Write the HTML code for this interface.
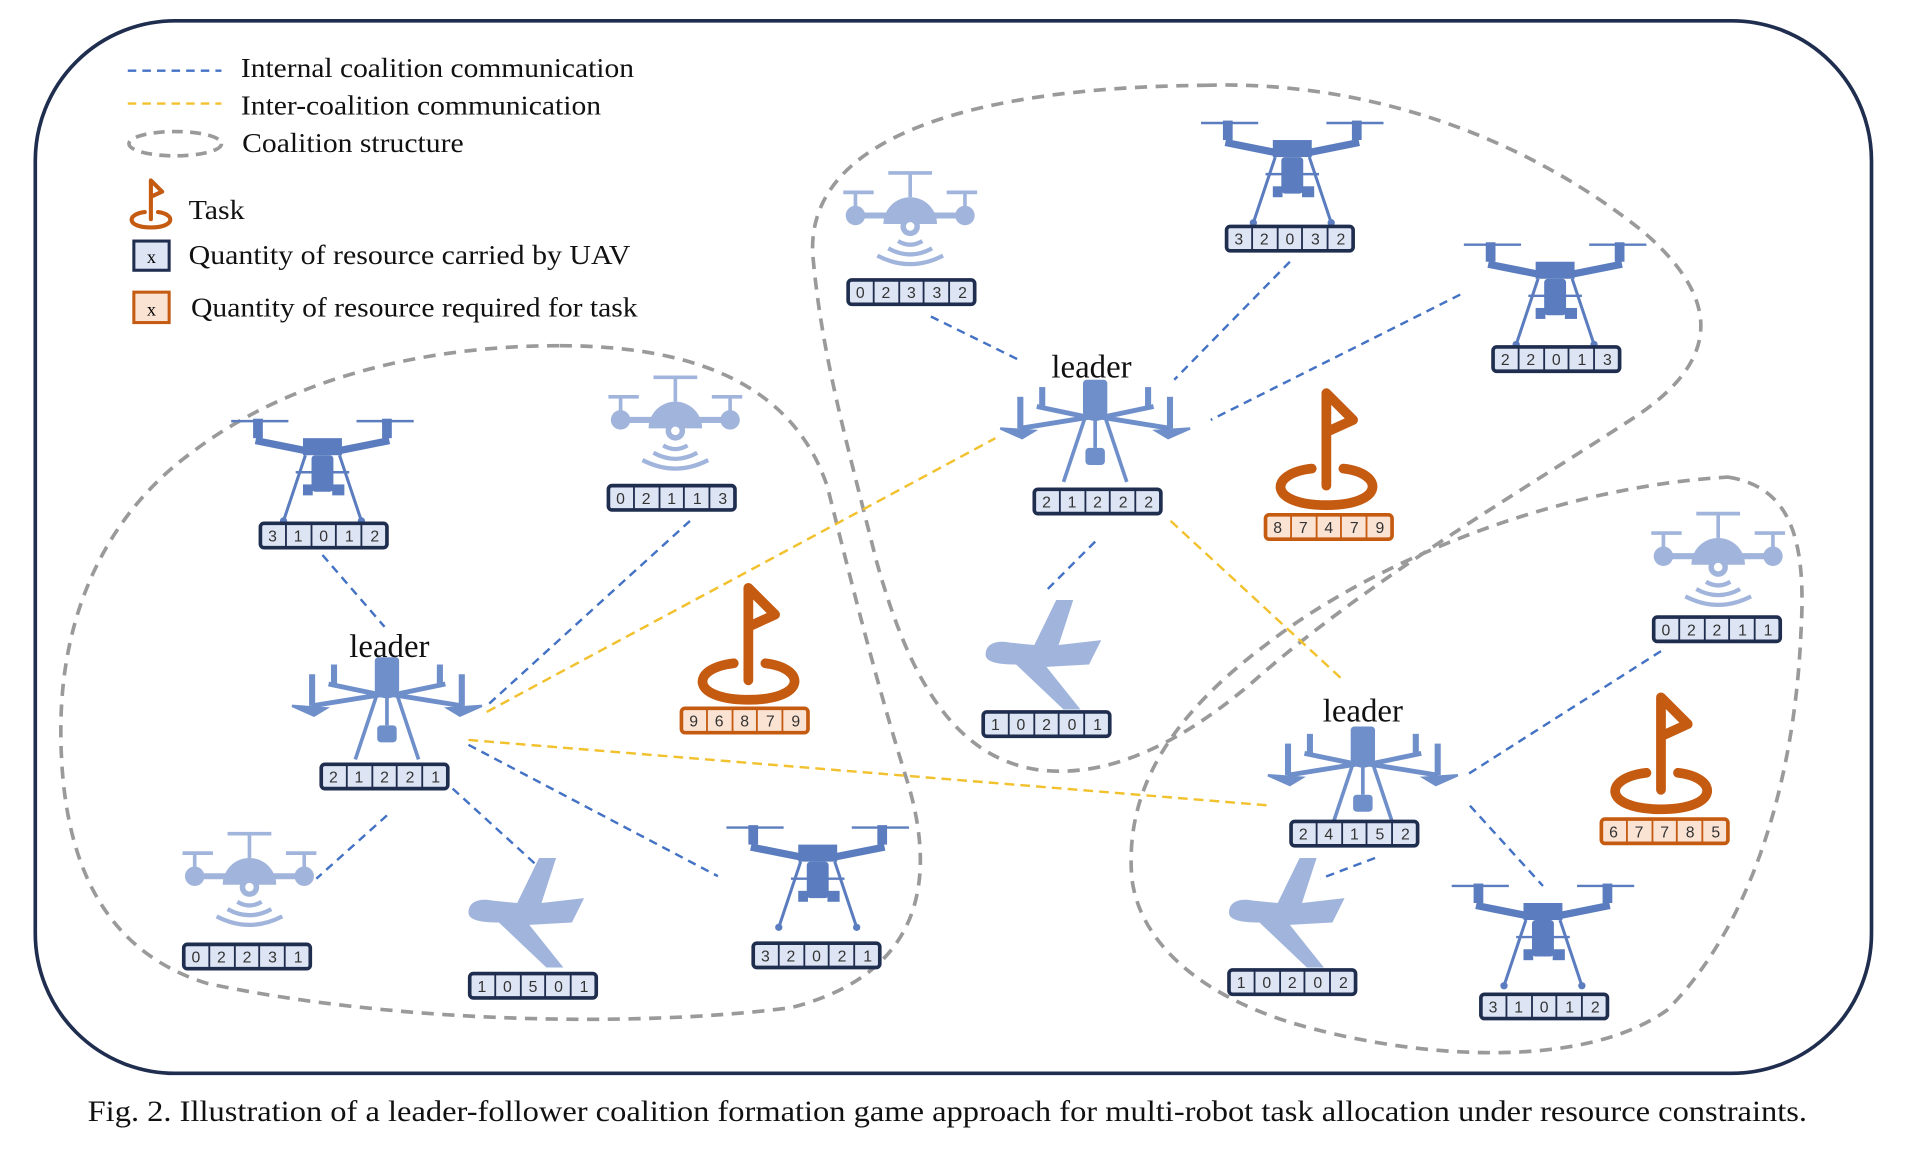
<!DOCTYPE html>
<html><head><meta charset="utf-8"><style>
html,body{margin:0;padding:0;background:#fff;}
svg{display:block;}
text{font-family:"Liberation Serif",serif;}
.num{font-family:"Liberation Sans",sans-serif;font-size:13px;fill:#333;text-anchor:middle;}
</style></head><body>
<svg width="1908" height="1155" viewBox="0 0 1568 949" xmlns="http://www.w3.org/2000/svg">
<defs>
<g id="quad" fill="#5b7dbf" stroke="#5b7dbf">
  <line x1="-75" y1="-42" x2="-28" y2="-42" stroke-width="2"/>
  <line x1="28" y1="-42" x2="75" y2="-42" stroke-width="2"/>
  <rect x="-57" y="-44" width="8" height="16" stroke="none"/>
  <rect x="49" y="-44" width="8" height="16" stroke="none"/>
  <path d="M-55,-26 L-15,-18 L15,-18 L55,-26" fill="none" stroke-width="6"/>
  <rect x="-16" y="-28" width="32" height="14" stroke="none"/>
  <rect x="-9" y="-14" width="18" height="30" rx="3" stroke="none"/>
  <line x1="-14" y1="-14" x2="-32" y2="40" stroke-width="2.5"/>
  <line x1="14" y1="-14" x2="32" y2="40" stroke-width="2.5"/>
  <line x1="-22" y1="0" x2="22" y2="0" stroke-width="2"/>
  <rect x="-16" y="10" width="8" height="9" stroke="none"/>
  <rect x="8" y="10" width="10" height="9" stroke="none"/>
  <circle cx="-32" cy="40" r="3" stroke="none"/><circle cx="32" cy="40" r="3" stroke="none"/>
</g>
<g id="leaderd" fill="#6f8fca" stroke="#6f8fca">
  <rect x="-10" y="-40" width="20" height="30" rx="3" stroke="none"/>
  <path d="M-48,-18 L0,-8 L48,-18 M-62,0 L0,-10 L62,0" fill="none" stroke-width="4"/>
  <rect x="-46" y="-34" width="5" height="16" stroke="none"/><rect x="41" y="-34" width="5" height="16" stroke="none"/>
  <rect x="-64" y="-26" width="5" height="26" stroke="none"/><rect x="59" y="-26" width="5" height="26" stroke="none"/>
  <path d="M-78,0 L-50,2 L-60,8 Z M78,0 L50,2 L60,8 Z" stroke-width="2"/>
  <path d="M-8,-10 L-26,44 M8,-10 L26,44" fill="none" stroke-width="3"/>
  <rect x="-8" y="16" width="16" height="14" rx="3" stroke="none"/>
  <line x1="0" y1="-10" x2="0" y2="16" stroke-width="3"/>
</g>
<g id="round" fill="#a1b5dc" stroke="#a1b5dc">
  <line x1="-18" y1="-30" x2="18" y2="-30" stroke-width="3"/>
  <line x1="0" y1="-30" x2="0" y2="-10" stroke-width="3"/>
  <line x1="-55" y1="-14" x2="-30" y2="-14" stroke-width="3"/>
  <line x1="30" y1="-14" x2="55" y2="-14" stroke-width="3"/>
  <line x1="-45" y1="-14" x2="-45" y2="0" stroke-width="3"/>
  <line x1="45" y1="-14" x2="45" y2="0" stroke-width="3"/>
  <circle cx="-45" cy="5" r="8" stroke="none"/><circle cx="45" cy="5" r="8" stroke="none"/>
  <line x1="-45" y1="5" x2="45" y2="5" stroke-width="5"/>
  <path d="M-22,12 A22,22 0 0 1 22,12 Z" stroke="none"/>
  <circle cx="0" cy="14" r="8" stroke="none"/>
  <circle cx="0" cy="14" r="3.5" fill="#fff" stroke="none"/>
  <path d="M-10,26 Q0,32 10,26 M-18,32 Q0,42 18,32 M-27,38 Q0,52 27,38" fill="none" stroke-width="3.5"/>
</g>
<g id="plane" fill="#a1b5dc">
  <path d="M-50,0 C-50,-10 -40,-12 -30,-10 L-10,-8 L8,-45 L22,-45 L10,-8 L45,-12 L35,8 L0,10 L28,45 L14,45 L-25,8 C-40,8 -50,6 -50,0 Z"/>
</g>
<g id="flag" fill="none" stroke="#c55a11" stroke-linecap="round" stroke-linejoin="round">
  <path d="M0,24 L0,-52 L22,-30 L0,-20" stroke-width="8"/>
  <path d="M-12,10 C-48,14 -48,40 0,40 C48,40 48,14 14,10" stroke-width="8"/>
</g>
</defs>

<rect x="29" y="17" width="1509" height="865" rx="115" fill="none" stroke="#1f2d4f" stroke-width="3"/>

<g fill="none" stroke="#9a9a9a" stroke-width="3" stroke-dasharray="10 7">
<path d="M460,284 C560,284 650,310 680,400 C700,480 720,560 745,640 C770,720 760,800 650,828 C520,845 320,840 170,808 C80,780 50,700 50,600 C50,500 90,420 160,370 C240,310 350,284 460,284 Z"/>
<path d="M990,70 C1120,66 1250,110 1350,190 C1420,250 1410,300 1340,345 C1240,410 1120,480 1030,560 C960,620 900,640 850,632 C780,620 745,550 720,460 C695,360 675,290 668,210 C662,120 780,72 990,70 Z"/>
<path d="M1420,392 C1470,400 1485,440 1480,520 C1475,640 1440,760 1370,830 C1300,880 1160,870 1060,840 C980,815 935,770 930,720 C925,650 960,590 1040,530 C1130,460 1280,400 1420,392 Z"/>
</g>

<g stroke="#4472c4" stroke-width="2" stroke-dasharray="7 5" fill="none">
<line x1="265" y1="456" x2="316" y2="515"/>
<line x1="567" y1="428" x2="400" y2="580"/>
<line x1="318" y1="670" x2="260" y2="722"/>
<line x1="372" y1="648" x2="440" y2="710"/>
<line x1="385" y1="612" x2="590" y2="720"/>
<line x1="765" y1="260" x2="838" y2="296"/>
<line x1="1060" y1="215" x2="965" y2="312"/>
<line x1="1200" y1="242" x2="995" y2="345"/>
<line x1="900" y1="445" x2="860" y2="485"/>
<line x1="1365" y1="535" x2="1205" y2="637"/>
<line x1="1208" y1="662" x2="1268" y2="728"/>
<line x1="1130" y1="705" x2="1085" y2="722"/>
</g>
<g stroke="#f2c12e" stroke-width="2" stroke-dasharray="8 5" fill="none">
<line x1="400" y1="585" x2="818" y2="360"/>
<line x1="385" y1="608" x2="1045" y2="662"/>
<line x1="962" y1="428" x2="1105" y2="560"/>
</g>

<line x1="105" y1="58" x2="182" y2="58" stroke="#4472c4" stroke-width="2" stroke-dasharray="7 5"/>
<line x1="105" y1="85" x2="182" y2="85" stroke="#f2c12e" stroke-width="2" stroke-dasharray="7 5"/>
<ellipse cx="144" cy="118" rx="38" ry="10" fill="none" stroke="#9a9a9a" stroke-width="3" stroke-dasharray="9 6"/>
<g font-size="23" fill="#111">
<text x="198" y="63" textLength="323" lengthAdjust="spacingAndGlyphs">Internal coalition communication</text>
<text x="198" y="94" textLength="296" lengthAdjust="spacingAndGlyphs">Inter-coalition communication</text>
<text x="199" y="125" textLength="182" lengthAdjust="spacingAndGlyphs">Coalition structure</text>
<text x="155" y="180" textLength="46" lengthAdjust="spacingAndGlyphs">Task</text>
<text x="155" y="217" textLength="363" lengthAdjust="spacingAndGlyphs">Quantity of resource carried by UAV</text>
<text x="157" y="260" textLength="367" lengthAdjust="spacingAndGlyphs">Quantity of resource required for task</text>
</g>
<g transform="translate(124,170) scale(0.42)"><use href="#flag"/></g>
<rect x="110" y="198" width="29" height="24" fill="#dde4f3" stroke="#1f2d4f" stroke-width="2.5"/>
<text x="124.5" y="216" font-size="15" text-anchor="middle" font-family="Liberation Sans,sans-serif">x</text>
<rect x="110" y="240" width="29" height="25" fill="#fbe3d3" stroke="#c55a11" stroke-width="2.5"/>
<text x="124.5" y="259" font-size="15" text-anchor="middle" font-family="Liberation Sans,sans-serif">x</text>

<use href="#quad" x="265" y="388"/>
<use href="#quad" x="1062" y="143"/>
<use href="#quad" x="1278" y="243"/>
<use href="#quad" x="672" y="722"/>
<use href="#quad" x="1268" y="770"/>
<use href="#leaderd" x="318" y="580"/>
<use href="#leaderd" x="900" y="352"/>
<use href="#leaderd" x="1120" y="637"/>
<use href="#round" x="748" y="172"/>
<use href="#round" x="555" y="340"/>
<use href="#round" x="205" y="715"/>
<use href="#round" x="1412" y="452"/>
<use href="#plane" x="860" y="538"/>
<use href="#plane" x="435" y="750"/>
<use href="#plane" x="1060" y="750"/>
<use href="#flag" x="615" y="535"/>
<use href="#flag" x="1090" y="375"/>
<use href="#flag" x="1365" y="625"/>

<g font-size="27" fill="#111" text-anchor="middle">
<text x="320" y="540">leader</text>
<text x="897" y="310">leader</text>
<text x="1120" y="593">leader</text>
</g>

<g font-family="Liberation Sans,sans-serif">
<g transform="translate(214,430)"><rect width="104" height="20" rx="3" fill="#dde4f3" stroke="#1f2d4f" stroke-width="3"/><path d="M21,0V20M42,0V20M62,0V20M83,0V20" stroke="#1f2d4f" stroke-width="1.5"/><text class="num" y="15"><tspan x="10">3</tspan><tspan x="31">1</tspan><tspan x="52">0</tspan><tspan x="73">1</tspan><tspan x="94">2</tspan></text></g>
<g transform="translate(500,399)"><rect width="104" height="20" rx="3" fill="#dde4f3" stroke="#1f2d4f" stroke-width="3"/><path d="M21,0V20M42,0V20M62,0V20M83,0V20" stroke="#1f2d4f" stroke-width="1.5"/><text class="num" y="15"><tspan x="10">0</tspan><tspan x="31">2</tspan><tspan x="52">1</tspan><tspan x="73">1</tspan><tspan x="94">3</tspan></text></g>
<g transform="translate(264,628)"><rect width="104" height="20" rx="3" fill="#dde4f3" stroke="#1f2d4f" stroke-width="3"/><path d="M21,0V20M42,0V20M62,0V20M83,0V20" stroke="#1f2d4f" stroke-width="1.5"/><text class="num" y="15"><tspan x="10">2</tspan><tspan x="31">1</tspan><tspan x="52">2</tspan><tspan x="73">2</tspan><tspan x="94">1</tspan></text></g>
<g transform="translate(151,776)"><rect width="104" height="20" rx="3" fill="#dde4f3" stroke="#1f2d4f" stroke-width="3"/><path d="M21,0V20M42,0V20M62,0V20M83,0V20" stroke="#1f2d4f" stroke-width="1.5"/><text class="num" y="15"><tspan x="10">0</tspan><tspan x="31">2</tspan><tspan x="52">2</tspan><tspan x="73">3</tspan><tspan x="94">1</tspan></text></g>
<g transform="translate(386,800)"><rect width="104" height="20" rx="3" fill="#dde4f3" stroke="#1f2d4f" stroke-width="3"/><path d="M21,0V20M42,0V20M62,0V20M83,0V20" stroke="#1f2d4f" stroke-width="1.5"/><text class="num" y="15"><tspan x="10">1</tspan><tspan x="31">0</tspan><tspan x="52">5</tspan><tspan x="73">0</tspan><tspan x="94">1</tspan></text></g>
<g transform="translate(619,775)"><rect width="104" height="20" rx="3" fill="#dde4f3" stroke="#1f2d4f" stroke-width="3"/><path d="M21,0V20M42,0V20M62,0V20M83,0V20" stroke="#1f2d4f" stroke-width="1.5"/><text class="num" y="15"><tspan x="10">3</tspan><tspan x="31">2</tspan><tspan x="52">0</tspan><tspan x="73">2</tspan><tspan x="94">1</tspan></text></g>
<g transform="translate(560,582)"><rect width="104" height="20" rx="3" fill="#fbe3d3" stroke="#c55a11" stroke-width="3"/><path d="M21,0V20M42,0V20M62,0V20M83,0V20" stroke="#c55a11" stroke-width="1.5"/><text class="num" y="15"><tspan x="10">9</tspan><tspan x="31">6</tspan><tspan x="52">8</tspan><tspan x="73">7</tspan><tspan x="94">9</tspan></text></g>
<g transform="translate(697,230)"><rect width="104" height="20" rx="3" fill="#dde4f3" stroke="#1f2d4f" stroke-width="3"/><path d="M21,0V20M42,0V20M62,0V20M83,0V20" stroke="#1f2d4f" stroke-width="1.5"/><text class="num" y="15"><tspan x="10">0</tspan><tspan x="31">2</tspan><tspan x="52">3</tspan><tspan x="73">3</tspan><tspan x="94">2</tspan></text></g>
<g transform="translate(1008,186)"><rect width="104" height="20" rx="3" fill="#dde4f3" stroke="#1f2d4f" stroke-width="3"/><path d="M21,0V20M42,0V20M62,0V20M83,0V20" stroke="#1f2d4f" stroke-width="1.5"/><text class="num" y="15"><tspan x="10">3</tspan><tspan x="31">2</tspan><tspan x="52">0</tspan><tspan x="73">3</tspan><tspan x="94">2</tspan></text></g>
<g transform="translate(1227,285)"><rect width="104" height="20" rx="3" fill="#dde4f3" stroke="#1f2d4f" stroke-width="3"/><path d="M21,0V20M42,0V20M62,0V20M83,0V20" stroke="#1f2d4f" stroke-width="1.5"/><text class="num" y="15"><tspan x="10">2</tspan><tspan x="31">2</tspan><tspan x="52">0</tspan><tspan x="73">1</tspan><tspan x="94">3</tspan></text></g>
<g transform="translate(850,402)"><rect width="104" height="20" rx="3" fill="#dde4f3" stroke="#1f2d4f" stroke-width="3"/><path d="M21,0V20M42,0V20M62,0V20M83,0V20" stroke="#1f2d4f" stroke-width="1.5"/><text class="num" y="15"><tspan x="10">2</tspan><tspan x="31">1</tspan><tspan x="52">2</tspan><tspan x="73">2</tspan><tspan x="94">2</tspan></text></g>
<g transform="translate(1040,423)"><rect width="104" height="20" rx="3" fill="#fbe3d3" stroke="#c55a11" stroke-width="3"/><path d="M21,0V20M42,0V20M62,0V20M83,0V20" stroke="#c55a11" stroke-width="1.5"/><text class="num" y="15"><tspan x="10">8</tspan><tspan x="31">7</tspan><tspan x="52">4</tspan><tspan x="73">7</tspan><tspan x="94">9</tspan></text></g>
<g transform="translate(808,585)"><rect width="104" height="20" rx="3" fill="#dde4f3" stroke="#1f2d4f" stroke-width="3"/><path d="M21,0V20M42,0V20M62,0V20M83,0V20" stroke="#1f2d4f" stroke-width="1.5"/><text class="num" y="15"><tspan x="10">1</tspan><tspan x="31">0</tspan><tspan x="52">2</tspan><tspan x="73">0</tspan><tspan x="94">1</tspan></text></g>
<g transform="translate(1359,507)"><rect width="104" height="20" rx="3" fill="#dde4f3" stroke="#1f2d4f" stroke-width="3"/><path d="M21,0V20M42,0V20M62,0V20M83,0V20" stroke="#1f2d4f" stroke-width="1.5"/><text class="num" y="15"><tspan x="10">0</tspan><tspan x="31">2</tspan><tspan x="52">2</tspan><tspan x="73">1</tspan><tspan x="94">1</tspan></text></g>
<g transform="translate(1061,675)"><rect width="104" height="20" rx="3" fill="#dde4f3" stroke="#1f2d4f" stroke-width="3"/><path d="M21,0V20M42,0V20M62,0V20M83,0V20" stroke="#1f2d4f" stroke-width="1.5"/><text class="num" y="15"><tspan x="10">2</tspan><tspan x="31">4</tspan><tspan x="52">1</tspan><tspan x="73">5</tspan><tspan x="94">2</tspan></text></g>
<g transform="translate(1316,673)"><rect width="104" height="20" rx="3" fill="#fbe3d3" stroke="#c55a11" stroke-width="3"/><path d="M21,0V20M42,0V20M62,0V20M83,0V20" stroke="#c55a11" stroke-width="1.5"/><text class="num" y="15"><tspan x="10">6</tspan><tspan x="31">7</tspan><tspan x="52">7</tspan><tspan x="73">8</tspan><tspan x="94">5</tspan></text></g>
<g transform="translate(1010,797)"><rect width="104" height="20" rx="3" fill="#dde4f3" stroke="#1f2d4f" stroke-width="3"/><path d="M21,0V20M42,0V20M62,0V20M83,0V20" stroke="#1f2d4f" stroke-width="1.5"/><text class="num" y="15"><tspan x="10">1</tspan><tspan x="31">0</tspan><tspan x="52">2</tspan><tspan x="73">0</tspan><tspan x="94">2</tspan></text></g>
<g transform="translate(1217,817)"><rect width="104" height="20" rx="3" fill="#dde4f3" stroke="#1f2d4f" stroke-width="3"/><path d="M21,0V20M42,0V20M62,0V20M83,0V20" stroke="#1f2d4f" stroke-width="1.5"/><text class="num" y="15"><tspan x="10">3</tspan><tspan x="31">1</tspan><tspan x="52">0</tspan><tspan x="73">1</tspan><tspan x="94">2</tspan></text></g>
</g>

<text x="72" y="921" font-size="24" fill="#111" textLength="1413" lengthAdjust="spacingAndGlyphs">Fig. 2.    Illustration of a leader-follower coalition formation game approach for multi-robot task allocation under resource constraints.</text>
</svg>
</body></html>
